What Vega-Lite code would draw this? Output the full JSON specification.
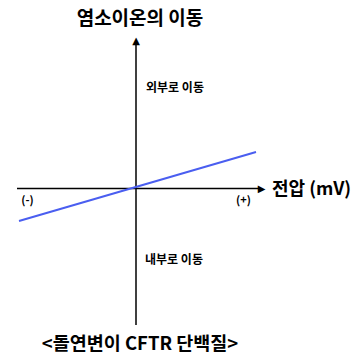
{
  "$schema": "https://vega.github.io/schema/vega-lite/v6.json",
  "width": 356,
  "height": 361,
  "autosize": {"type": "fit", "contains": "padding"},
  "padding": 0,
  "background": "white",
  "config": {"view": {"stroke": null}, "text": {"font": "Noto Sans CJK KR", "fontWeight": "bold", "baseline": "middle", "color": "black"}},
  "datasets": {
    "axes": [
      {"axis": "x", "x1": -11.9, "y1": 0, "x2": 12.3, "y2": 0},
      {"axis": "y", "x1": 0, "y1": -13.65, "x2": 0, "y2": 14.5}
    ],
    "arrowRight": [{"glyph": "▶", "ax": 12.55, "ay": 0}],
    "arrowUp": [{"glyph": "▲", "ax": 0, "ay": 14.75}],
    "current": [
      {"voltage": -11.7, "flow": -3.25},
      {"voltage": 12.0, "flow": 3.65}
    ],
    "title": [{"label": "염소이온의 이동", "lx": 0.4, "ly": 16.95}],
    "caption": [{"label": "<돌연변이 CFTR 단백질>", "lx": 0.4, "ly": -15.55}],
    "signs": [
      {"label": "(-)", "lx": -10.85, "ly": -1.2},
      {"label": "(+)", "lx": 10.75, "ly": -1.2}
    ],
    "axisTitle": [{"label": "전압 (mV)", "lx": 13.6, "ly": -0.1}],
    "direction": [
      {"label": "외부로 이동", "lx": 1.0, "ly": 10.05},
      {"label": "내부로 이동", "lx": 0.9, "ly": -7.15}
    ]
  },
  "layer": [
    {
      "data": {"name": "axes"},
      "mark": {"type": "rule", "color": "black", "strokeWidth": 1.5},
      "encoding": {
        "x": {"field": "x1", "type": "quantitative", "scale": {"domain": [-13.6, 22], "nice": false, "zero": false}, "axis": null},
        "y": {"field": "y1", "type": "quantitative", "scale": {"domain": [-17.25, 18.85], "nice": false, "zero": false}, "axis": null},
        "x2": {"field": "x2"},
        "y2": {"field": "y2"}
      }
    },
    {
      "data": {"name": "arrowRight"},
      "mark": {"type": "text", "font": "DejaVu Sans", "fontWeight": "normal", "align": "center", "baseline": "middle", "fontSize": 10},
      "encoding": {
        "x": {"field": "ax", "type": "quantitative"},
        "y": {"field": "ay", "type": "quantitative"},
        "text": {"field": "glyph"}
      }
    },
    {
      "data": {"name": "arrowUp"},
      "mark": {"type": "text", "font": "DejaVu Sans", "fontWeight": "normal", "align": "center", "baseline": "middle", "fontSize": 10},
      "encoding": {
        "x": {"field": "ax", "type": "quantitative"},
        "y": {"field": "ay", "type": "quantitative"},
        "text": {"field": "glyph"}
      }
    },
    {
      "data": {"name": "current"},
      "mark": {"type": "line", "color": "#4a5ef0", "strokeWidth": 2},
      "encoding": {
        "x": {"field": "voltage", "type": "quantitative"},
        "y": {"field": "flow", "type": "quantitative"}
      }
    },
    {
      "data": {"name": "title"},
      "mark": {"type": "text", "align": "center", "fontSize": 19},
      "encoding": {
        "x": {"field": "lx", "type": "quantitative"},
        "y": {"field": "ly", "type": "quantitative"},
        "text": {"field": "label"}
      }
    },
    {
      "data": {"name": "caption"},
      "mark": {"type": "text", "align": "center", "fontSize": 18.5},
      "encoding": {
        "x": {"field": "lx", "type": "quantitative"},
        "y": {"field": "ly", "type": "quantitative"},
        "text": {"field": "label"}
      }
    },
    {
      "data": {"name": "signs"},
      "mark": {"type": "text", "align": "center", "fontSize": 11},
      "encoding": {
        "x": {"field": "lx", "type": "quantitative"},
        "y": {"field": "ly", "type": "quantitative"},
        "text": {"field": "label"}
      }
    },
    {
      "data": {"name": "axisTitle"},
      "mark": {"type": "text", "align": "left", "fontSize": 18},
      "encoding": {
        "x": {"field": "lx", "type": "quantitative"},
        "y": {"field": "ly", "type": "quantitative"},
        "text": {"field": "label"}
      }
    },
    {
      "data": {"name": "direction"},
      "mark": {"type": "text", "align": "left", "fontSize": 12},
      "encoding": {
        "x": {"field": "lx", "type": "quantitative"},
        "y": {"field": "ly", "type": "quantitative"},
        "text": {"field": "label"}
      }
    }
  ]
}
